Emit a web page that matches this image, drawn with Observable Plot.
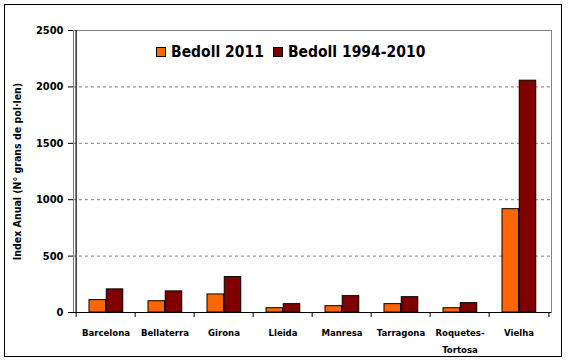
<!DOCTYPE html>
<html>
<head>
<meta charset="utf-8">
<script src="https://cdn.jsdelivr.net/npm/d3@7"></script>
<script src="https://cdn.jsdelivr.net/npm/@observablehq/plot@0.6"></script>
<style>
  html, body { margin: 0; padding: 0; background: #fff; }
  #wrap { position: relative; width: 568px; height: 364px; overflow: hidden; }
  #border { position: absolute; left: 4px; top: 4px; width: 556px; height: 351px; border: 1.5px solid #000; pointer-events: none; }
  #legend { position: absolute; left: 156px; top: 43px; display: flex; align-items: center;
    font-family: "DejaVu Sans Condensed", "DejaVu Sans", sans-serif; font-weight: bold; font-size: 15.5px; color: #000; white-space: nowrap; }
  #legend .sw { display: inline-block; width: 8px; height: 8px; border: 1px solid #000; margin-right: 5px; }
  #legend .item { display: flex; align-items: center; margin-right: 9px; }
</style>
</head>
<body>
<div id="wrap">
  <div id="chart"></div>
  <div id="border"></div>
  <div id="legend"></div>
</div>
<script>
const cities = ["Barcelona", "Bellaterra", "Girona", "Lleida", "Manresa", "Tarragona", "Roquetes-Tortosa", "Vielha"];
const bedoll2011 = [110, 100, 160, 38, 56, 74, 38, 916];
const bedoll19942010 = [205, 187, 314, 74, 145, 136, 83, 2055];
const yTicks = [0, 500, 1000, 1500, 2000, 2500];
const gridTicks = [500, 1000, 1500, 2000];
const seriesNames = ["Bedoll 2011", "Bedoll 1994-2010"];
const seriesColors = ["#FF6600", "#800000"];
const yTitle = "Index Anual (N° grans de pol·len)";

const W = 568, H = 364;
const mL = 73, mR = 17, mT = 30, mB = 52;
const bw = (W - mL - mR) / cities.length;
const barW = 17.25;
const firstInset = 13;

const rows = cities.map((c, i) => ({city: c, v2011: bedoll2011[i], vHist: bedoll19942010[i]}));
const font = "'DejaVu Sans Condensed', 'DejaVu Sans', sans-serif";

const plot = Plot.plot({
  width: W, height: H,
  marginLeft: mL, marginRight: mR, marginTop: mT, marginBottom: mB,
  style: {fontFamily: font, fontWeight: "bold", background: "transparent", color: "#000"},
  x: {domain: cities, padding: 0, label: null},
  y: {domain: [0, 2500], label: null},
  marks: [
    Plot.frame({stroke: "#808080", strokeWidth: 1}),
    Plot.gridY(gridTicks, {stroke: "#808080", strokeOpacity: 1, strokeDasharray: "3,3", strokeWidth: 1}),
    Plot.barY(rows, {x: "city", y: "v2011", fill: seriesColors[0], stroke: "#000", strokeWidth: 1,
      insetLeft: firstInset, insetRight: bw - firstInset - barW}),
    Plot.barY(rows, {x: "city", y: "vHist", fill: seriesColors[1], stroke: "#000", strokeWidth: 1,
      insetLeft: firstInset + barW, insetRight: bw - firstInset - 2 * barW}),
    Plot.ruleY([0], {stroke: "#000", strokeWidth: 1.2}),
    Plot.ruleX([cities[0]], {dx: -bw / 2, stroke: "#000", strokeWidth: 1.2}),
    Plot.ruleX(cities, {x: d => d, dx: -bw / 2, stroke: "#000", insetTop: H - mT - mB, insetBottom: -5}),
    Plot.ruleX([cities[cities.length - 1]], {dx: bw / 2, stroke: "#000", insetTop: H - mT - mB, insetBottom: -5}),
    Plot.axisY({ticks: yTicks, tickSize: 5, tickPadding: 5, fontSize: 11, fontWeight: "bold", label: null, tickFormat: d => String(d)}),
    Plot.axisX({tickSize: 0, tickPadding: 11, fontSize: 9.5, fontWeight: "bold", lineHeight: 1.8, label: null,
      tickFormat: d => d.replace("-", "-\n")}),
    Plot.text([yTitle], {frameAnchor: "left", textAnchor: "middle", dx: -56, rotate: -90, fontSize: 10.5, fontWeight: "bold", fill: "#000"})
  ]
});
document.getElementById("chart").appendChild(plot);

const legend = document.getElementById("legend");
seriesNames.forEach((n, i) => {
  const it = document.createElement("span");
  it.className = "item";
  const sw = document.createElement("span");
  sw.className = "sw";
  sw.style.background = seriesColors[i];
  it.appendChild(sw);
  it.appendChild(document.createTextNode(n));
  legend.appendChild(it);
});
</script>
</body>
</html>
